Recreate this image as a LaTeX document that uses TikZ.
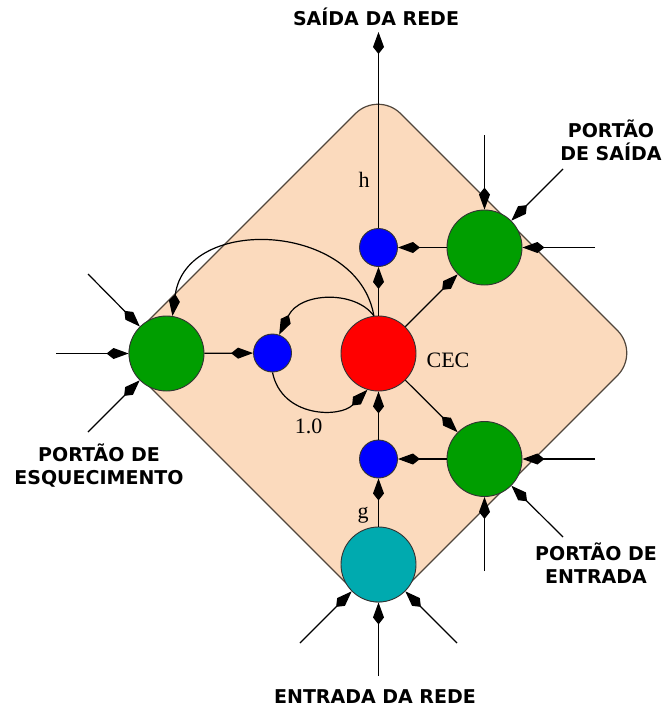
\documentclass[tikz,border=0pt]{standalone}
\usepackage{fontspec}
\setmainfont{Liberation Serif}
\newfontfamily\gatefont{DejaVu Sans}
\usetikzlibrary{arrows.meta}

\definecolor{cellfill}{RGB}{251,218,189}
\definecolor{celledge}{RGB}{80,70,60}
\definecolor{gategreen}{RGB}{0,158,0}
\definecolor{cecred}{RGB}{255,0,0}
\definecolor{unitblue}{RGB}{0,0,255}
\definecolor{inputteal}{RGB}{0,170,175}

\begin{document}
\begin{tikzpicture}[x=1pt,y=-1pt,
  unit/.style={circle,draw=black!80,line width=0.9pt,inner sep=0pt},
  bigunit/.style={unit,minimum size=75pt},
  smallunit/.style={unit,minimum size=38pt,fill=unitblue},
  conn/.style={line width=1.2pt,-{Kite[length=22pt,width=11pt,inset=7pt]}},
  caption/.style={font=\gatefont\bfseries\fontsize{19}{22.5}\selectfont,align=center,anchor=base,inner sep=0pt},
  seriflabel/.style={font=\fontsize{22}{24}\selectfont,anchor=base,inner sep=0pt}
]
\useasboundingbox (0,0) rectangle (662,707);

% memory cell block
\draw[fill=cellfill,draw=celledge,line width=1.2pt,rounded corners=32pt]
  (378,91) -- (640,353) -- (378,615) -- (116,353) -- cycle;

% units
\node[bigunit,fill=gategreen] (forget)  at (166.5,353.5) {};
\node[smallunit]              (lblue)   at (272.5,353) {};
\node[bigunit,fill=cecred]    (cec)     at (378.5,353.5) {};
\node[smallunit]              (hblue)   at (378.5,247.5) {};
\node[bigunit,fill=gategreen] (outgate) at (484.5,247.5) {};
\node[smallunit]              (gblue)   at (378.5,459) {};
\node[bigunit,fill=gategreen] (ingate)  at (484.5,459) {};
\node[bigunit,fill=inputteal] (netin)   at (378.5,564.5) {};

% free ends of the external connections
\coordinate (netout) at (378.5,32);
\coordinate (og1) at (484.5,135);
\coordinate (og2) at (563,169);
\coordinate (og3) at (595,247.5);
\coordinate (ig1) at (595,459);
\coordinate (ig2) at (563,537);
\coordinate (ig3) at (484.5,571);
\coordinate (ni1) at (300,643);
\coordinate (ni2) at (378.5,676);
\coordinate (ni3) at (457,643);
\coordinate (fg1) at (88,274);
\coordinate (fg2) at (56,353.5);
\coordinate (fg3) at (88,432);

% internal connections
\draw[conn] (hblue) -- (netout);
\draw[conn] (cec) -- (hblue);
\draw[conn] (outgate) -- (hblue);
\draw[conn] (cec) -- (outgate);
\draw[conn] (cec) -- (ingate);
\draw[conn] (ingate) -- (gblue);
\draw[conn] (gblue) -- (cec);
\draw[conn] (netin) -- (gblue);
\draw[conn] (forget) -- (lblue);

% recurrent loops around the CEC
\draw[conn] (cec.97) .. controls (358,222) and (186,214) .. (forget.81);
\draw[conn] (cec.97) .. controls (355,290) and (300,292) .. (lblue.70);
\draw[conn] (lblue.270) .. controls (282,418) and (340,418) .. (cec.253);

% external inputs
\foreach \src/\dst in {og1/outgate,og2/outgate,og3/outgate,
                       ig1/ingate,ig2/ingate,ig3/ingate,
                       ni1/netin,ni2/netin,ni3/netin,
                       fg1/forget,fg2/forget,fg3/forget}
  \draw[conn] (\src) -- (\dst);

% labels
\node[seriflabel] (hlab)   at (364,187) {h};
\node[seriflabel] (glab)   at (363,518) {g};
\node[seriflabel] (ceclab) at (448,367) {CEC};
\node[seriflabel] (onelab) at (308.5,433) {1.0};

% captions (multi-line ones are placed by their last baseline)
\node[caption] (capout)    at (376,25)  {SAÍDA DA REDE};
\node[caption] (capogate)  at (611,160) {PORTÃO\\DE SAÍDA};
\node[caption] (capforget) at (99,484)  {PORTÃO DE\\ESQUECIMENTO};
\node[caption] (capigate)  at (596,583) {PORTÃO DE\\ENTRADA};
\node[caption] (capin)     at (375,703) {ENTRADA DA REDE};
\end{tikzpicture}
\end{document}
